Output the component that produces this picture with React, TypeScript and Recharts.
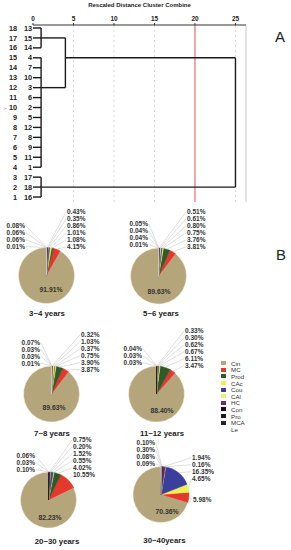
import { Line, LineChart, Pie, PieChart, ReferenceLine, XAxis, YAxis, Cell } from 'recharts'

const FONT = '"Liberation Sans", Arial, sans-serif'

// ---- A: dendrogram ----
// case labels from top row (18) down to row 1
const leafCases = [13, 15, 14, 4, 7, 10, 3, 6, 2, 5, 12, 8, 9, 11, 1, 17, 18, 16]
const distTicks = [0, 5, 10, 15, 20, 25]
const gridDists = [5, 10, 15, 25]
const cutDist = 20
const maxDist = 26.3

type Cluster = { id: string; top?: number; bottom?: number; kids?: string[]; dist: number; exitRow: number }

const leafClusters: Cluster[] = [
	{ id: 'a', top: 18, bottom: 16, dist: 1, exitRow: 17 },
	{ id: 'b', top: 15, bottom: 4, dist: 1, exitRow: 12 },
	{ id: 'c', top: 3, bottom: 1, dist: 1, exitRow: 2 },
]
const merges: Cluster[] = [
	{ id: 'd', kids: ['a', 'b'], dist: 4, exitRow: 15 },
	{ id: 'e', kids: ['d', 'c'], dist: 25, exitRow: 15 },
]

// ---- B: pies ----
const categories = ['Cin', 'MC', 'Prod', 'CAc', 'Cou', 'CAl', 'HC', 'Con', 'Pro', 'MCA', 'Le']
const catColors = ['#b5a57b', '#e4382c', '#2f5a2a', '#eeee55', '#3a3f9e', '#f2f25e', '#6a2c6a', '#111111', '#1c1c1c', '#262626', '#ffffff']
const ageGroups = ['3~4 years', '5~6 years', '7~8 years', '11~12 years', '20~30 years', '30~40years']
const age3to4 = [91.91, 4.15, 1.08, 1.01, 0.86, 0.35, 0.43, 0.08, 0.06, 0.06, 0.01]
const age5to6 = [89.63, 3.81, 3.76, 0.75, 0.8, 0.61, 0.51, 0.05, 0.04, 0.04, 0.01]
const age7to8 = [89.63, 3.87, 3.9, 0.75, 0.37, 1.03, 0.32, 0.07, 0.03, 0.03, 0.01]
const age11to12 = [88.4, 3.47, 6.11, 0.67, 0.62, 0.3, 0.33, 0.04, 0.03, 0.03, 0]
const age20to30 = [82.23, 10.55, 4.02, 0.55, 1.52, 0.2, 0.75, 0.06, 0.03, 0.1, 0]
const age30to40 = [70.36, 5.98, 0, 4.65, 16.35, 0.16, 1.94, 0.1, 0.3, 0.08, 0.09]
const ageValues = [age3to4, age5to6, age7to8, age11to12, age20to30, age30to40]

const B_TOP = 200
const STEP = 7
const RAD = Math.PI / 180

type PieLayout = {
	cx: number
	cy: number
	rx: number
	rBase: number
	lx: number
	lBase: number
	inner: [number, number]
	title: [number, number]
	side?: { index: number; dx: number; dy: number }
}

const pieLayouts: PieLayout[] = [
	{ cx: 46.5, cy: 275.5, rx: 20.5, rBase: -26.5, lx: -21.5, lBase: -26.5, inner: [4.5, 16], title: [47, 313] },
	{ cx: 158.5, cy: 276, rx: 28.5, rBase: -27, lx: -10.5, lBase: -29, inner: [0.5, 17.5], title: [161, 313] },
	{ cx: 51.5, cy: 394, rx: 29.5, rBase: -22, lx: -11.5, lBase: -28.5, inner: [2.5, 15.5], title: [52, 433] },
	{ cx: 156.5, cy: 394, rx: 28.5, rBase: -26, lx: -14.5, lBase: -29, inner: [5.5, 18.5], title: [162, 433] },
	{ cx: 48.5, cy: 500, rx: 24.5, rBase: -23, lx: -13.5, lBase: -28, inner: [1.5, 19.5], title: [57, 541] },
	{ cx: 161, cy: 494.5, rx: 31, rBase: -13.5, lx: -6, lBase: -28.5, inner: [6, 19], title: [164.5, 540], side: { index: 1, dx: 32, dy: 7.5 } },
]

function buildSegments() {
	const all: Record<string, Cluster> = {}
	const segs: { x: number; y: number }[][] = []
	leafClusters.forEach((c) => {
		all[c.id] = c
		for (let r = c.bottom!; r <= c.top!; r++) {
			segs.push([{ x: 0, y: r }, { x: c.dist, y: r }])
		}
		segs.push([{ x: c.dist, y: c.top! }, { x: c.dist, y: c.bottom! }])
	})
	merges.forEach((m) => {
		all[m.id] = m
		const kids = m.kids!.map((k) => all[k])
		kids.forEach((k) => segs.push([{ x: k.dist, y: k.exitRow }, { x: m.dist, y: k.exitRow }]))
		segs.push([{ x: m.dist, y: kids[0].exitRow }, { x: m.dist, y: kids[1].exitRow }])
	})
	return segs
}

const RowTick = (props: any) => {
	const { x, y, payload } = props
	const row = payload.value as number
	const caseNo = leafCases[18 - row]
	const st = { fontFamily: FONT, fontSize: 7.3, fontWeight: 700, fill: '#222' }
	return (
		<g>
			<text x={x - 15} y={y} dy={2.6} textAnchor="end" style={st}>
				{row}
			</text>
			<text x={x} y={y} dy={2.6} textAnchor="end" style={st}>
				{caseNo}
			</text>
		</g>
	)
}

function Dendrogram() {
	const segs = buildSegments()
	const rows = leafCases.map((_, i) => 18 - i)
	return (
		<LineChart width={291} height={202} margin={{ top: 0, right: 45, left: 0, bottom: 0 }}>
			<XAxis
				type="number"
				dataKey="x"
				orientation="top"
				domain={[0, maxDist]}
				ticks={distTicks}
				height={25}
				tickSize={2}
				tickMargin={2}
				stroke="#333"
				tick={{ fontFamily: FONT, fontSize: 6.4, fontWeight: 700, fill: '#222' }}
				label={{
					value: 'Rescaled Distance Cluster Combine',
					position: 'insideTop',
					offset: 3,
					style: { fontFamily: FONT, fontSize: 6, fontWeight: 700, fill: '#222' },
				}}
			/>
			<YAxis
				type="number"
				dataKey="y"
				domain={[0.5, 18.3]}
				ticks={rows}
				interval={0}
				width={33}
				axisLine={false}
				tickLine={false}
				tickSize={0}
				tickMargin={1}
				tick={<RowTick />}
			/>
			{gridDists.map((d) => (
				<ReferenceLine key={d} x={d} stroke="#cfcfcf" strokeDasharray="2 3" strokeWidth={0.8} />
			))}
			<ReferenceLine x={cutDist} stroke="#e23b3b" strokeWidth={0.9} />
			<ReferenceLine x={maxDist} stroke="#bdbdbd" strokeWidth={0.8} />
			{segs.map((s, i) => (
				<Line
					key={i}
					data={s}
					dataKey="y"
					stroke="#1a1a1a"
					strokeWidth={1.4}
					dot={false}
					activeDot={false}
					isAnimationActive={false}
				/>
			))}
		</LineChart>
	)
}

function makeLabel(values: number[], lay: PieLayout) {
	const rightIdx = [1, 2, 3, 4, 5, 6].filter((i) => values[i] > 0 && i !== lay.side?.index)
	const leftIdx = [7, 8, 9, 10].filter((i) => values[i] > 0)
	const st = { fontFamily: FONT, fontSize: 6.5, fontWeight: 700, fill: '#333' }
	return (p: any) => {
		const { cx, cy, midAngle, outerRadius, index, value } = p
		if (!value) return <g />
		const txt = `${Number(value).toFixed(2)}%`
		if (index === 0) {
			return (
				<text x={cx + lay.inner[0]} y={cy + lay.inner[1]} textAnchor="middle" style={{ ...st, fontSize: 6.8 }}>
					{txt}
				</text>
			)
		}
		const ax = cx + outerRadius * Math.cos(-midAngle * RAD)
		const ay = cy + outerRadius * Math.sin(-midAngle * RAD)
		let tx: number
		let ty: number
		let anchor: 'start' | 'end' = 'start'
		if (lay.side && index === lay.side.index) {
			tx = cx + lay.side.dx
			ty = cy + lay.side.dy
		} else if (index <= 6) {
			const k = rightIdx.indexOf(index)
			tx = cx + lay.rx
			ty = cy + lay.rBase - k * STEP
		} else {
			const k = leftIdx.indexOf(index)
			tx = cx + lay.lx
			ty = cy + lay.lBase - (leftIdx.length - 1 - k) * STEP
			anchor = 'end'
		}
		const ex = anchor === 'start' ? tx - 0.8 : tx + 0.8
		return (
			<g>
				<line x1={ax} y1={ay} x2={ex} y2={ty - 2.3} stroke="#c9c9c9" strokeWidth={0.6} />
				<text x={tx} y={ty} textAnchor={anchor} style={st}>
					{txt}
				</text>
			</g>
		)
	}
}

function Pies() {
	return (
		<PieChart width={291} height={350} margin={{ top: 0, right: 0, bottom: 0, left: 0 }}>
			{ageValues.map((vals, pi) => {
				const lay = pieLayouts[pi]
				const data = categories.map((name, i) => ({ name, value: vals[i] }))
				return (
					<Pie
						key={ageGroups[pi]}
						data={data}
						dataKey="value"
						nameKey="name"
						cx={lay.cx}
						cy={lay.cy - B_TOP}
						outerRadius={28}
						startAngle={90}
						endAngle={450}
						labelLine={false}
						label={makeLabel(vals, lay)}
						isAnimationActive={false}
					>
						{data.map((d, i) => (
							<Cell key={d.name} fill={catColors[i]} stroke={i === 0 ? '#f4f0e4' : catColors[i]} strokeWidth={0.5} />
						))}
					</Pie>
				)
			})}
		</PieChart>
	)
}

export default function App() {
	return (
		<div style={{ position: 'absolute', left: 0, top: 0, width: 291, height: 550, background: '#fff', fontFamily: FONT }}>
			<div style={{ position: 'absolute', left: 0, top: 0, width: 291, height: 202 }}>
				<Dendrogram />
			</div>
			<div style={{ position: 'absolute', left: 4, top: 106, fontSize: 4, color: '#777', transform: 'rotate(-90deg)' }}>Y</div>
			<div style={{ position: 'absolute', left: 275, top: 28, fontSize: 15, color: '#222' }}>A</div>
			<div style={{ position: 'absolute', left: 276, top: 246, fontSize: 15, color: '#222' }}>B</div>
			<div style={{ position: 'absolute', left: 0, top: B_TOP }}>
				<Pies />
			</div>
			{ageGroups.map((g, i) => (
				<div
					key={g}
					style={{
						position: 'absolute',
						left: pieLayouts[i].title[0],
						top: pieLayouts[i].title[1],
						transform: 'translate(-50%, -50%)',
						fontSize: 7.8,
						fontWeight: 700,
						color: '#222',
						whiteSpace: 'nowrap',
					}}
				>
					{g}
				</div>
			))}
			<div style={{ position: 'absolute', left: 221, top: 360 }}>
				{categories.map((c, i) => (
					<div key={c} style={{ display: 'flex', alignItems: 'center', height: 6.6, fontSize: 6.2, color: '#333' }}>
						<span style={{ display: 'inline-block', width: 5, height: 4, background: catColors[i], marginRight: 5 }} />
						<span>{c}</span>
					</div>
				))}
			</div>
		</div>
	)
}
